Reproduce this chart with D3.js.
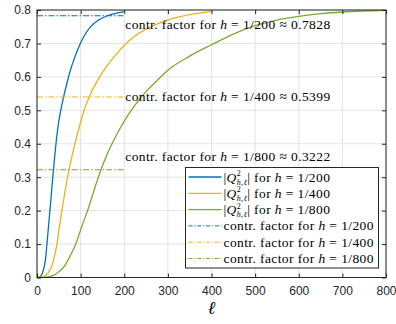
<!DOCTYPE html>
<html>
<head>
<meta charset="utf-8">
<script src="https://cdn.jsdelivr.net/npm/d3@7"></script>
<style>
  body { margin: 0; background: #fff; }
  svg { display: block; }
</style>
</head>
<body>
<svg id="chart" width="396" height="324"></svg>
<script>
// values
const ell200 = [0, 5, 8, 12, 16.7, 20, 22.8, 26.2, 29.6, 32.9, 36.2, 39.7, 43.5, 48, 54, 61, 68, 76, 85, 95, 107, 122, 140, 160, 180, 200];
const q200 = [0, 0.0005, 0.003, 0.012, 0.033, 0.06, 0.1, 0.15, 0.2, 0.25, 0.3, 0.35, 0.4, 0.45, 0.497, 0.54, 0.578, 0.617, 0.653, 0.687, 0.72, 0.749, 0.769, 0.782, 0.79, 0.795];

const ell400 = [0, 10, 16.7, 25, 33.5, 40, 45.7, 51.2, 57, 63.3, 70, 78, 86.9, 97, 108, 120, 132, 145, 160, 180, 200, 225, 250, 275, 300, 350, 400];
const q400 = [0, 0.0005, 0.003, 0.013, 0.033, 0.063, 0.1, 0.15, 0.2, 0.25, 0.3, 0.35, 0.4, 0.45, 0.5, 0.54, 0.573, 0.603, 0.632, 0.665, 0.694, 0.723, 0.743, 0.758, 0.77, 0.786, 0.796];

const ell800 = [0, 20, 40, 50, 62.5, 75, 89, 102, 116, 131, 147, 160, 175, 190, 205, 225, 250, 275, 300, 350, 400, 450, 500, 550, 600, 650, 700, 750, 800];
const q800 = [0, 0.001, 0.008, 0.017, 0.033, 0.062, 0.1, 0.15, 0.2, 0.262, 0.324, 0.366, 0.408, 0.445, 0.478, 0.516, 0.556, 0.589, 0.62, 0.662, 0.696, 0.728, 0.753, 0.77, 0.781, 0.789, 0.794, 0.797, 0.799];

const hLabels = ["1/200", "1/400", "1/800"];
const contrFactors = [0.7828, 0.5399, 0.3222];
const contrStrings = ["0.7828", "0.5399", "0.3222"];
const contrEnd = 200;

const xTicks = [0, 100, 200, 300, 400, 500, 600, 700, 800];
const yTicks = [0, 0.1, 0.2, 0.3, 0.4, 0.5, 0.6, 0.7, 0.8];
const yTickLabels = ["0", "0.1", "0.2", "0.3", "0.4", "0.5", "0.6", "0.7", "0.8"];

const colors = ["#0072BD", "#EDB120", "#77AC30"];
const serif = "'Times New Roman', 'Liberation Serif', serif";
const sans = "'Liberation Sans', Arial, sans-serif";
const axisColor = "#262626";

const svg = d3.select("#chart");
const x = d3.scaleLinear().domain([0, 800]).range([37, 386]);
const y = d3.scaleLinear().domain([0, 0.8]).range([277.5, 10]);

// grid
const grid = svg.append("g");
grid.selectAll(".gx").data(xTicks).enter().append("line")
  .attr("x1", d => x(d)).attr("x2", d => x(d))
  .attr("y1", y(0)).attr("y2", y(0.8))
  .attr("stroke", "#e3e3e3").attr("stroke-width", 1);
grid.selectAll(".gy").data(yTicks).enter().append("line")
  .attr("x1", x(0)).attr("x2", x(800))
  .attr("y1", d => y(d)).attr("y2", d => y(d))
  .attr("stroke", "#e3e3e3").attr("stroke-width", 1);

// curves
const series = [
  { l: ell200, q: q200 },
  { l: ell400, q: q400 },
  { l: ell800, q: q800 },
];
const line = d3.line()
  .x(d => x(d[0]))
  .y(d => y(d[1]))
  .curve(d3.curveMonotoneX);

series.forEach((s, i) => {
  svg.append("path")
    .datum(s.l.map((v, k) => [v, s.q[k]]))
    .attr("fill", "none")
    .attr("stroke", colors[i])
    .attr("stroke-width", 1.3)
    .attr("d", line);
});

// contraction factor lines
const dashes = "6,2,1.5,2";
contrFactors.forEach((c, i) => {
  svg.append("line")
    .attr("x1", x(0)).attr("x2", x(contrEnd))
    .attr("y1", y(c)).attr("y2", y(c))
    .attr("stroke", colors[i])
    .attr("stroke-width", 1.1)
    .attr("stroke-dasharray", dashes);
});

// annotations next to the dash-dot lines
const labelShift = [13, 4, -9];
contrFactors.forEach((c, i) => {
  const t = svg.append("text")
    .attr("x", x(contrEnd) + 1)
    .attr("y", y(c) + labelShift[i])
    .attr("font-family", serif)
    .attr("font-size", 13.5)
    .attr("letter-spacing", 0.4)
    .attr("fill", "#000");
  t.append("tspan").text("contr. factor for ");
  t.append("tspan").attr("font-style", "italic").text("h");
  t.append("tspan").text(" = " + hLabels[i] + " \u2248 " + contrStrings[i]);
});

// axes
const xAxis = d3.axisBottom(x).tickValues(xTicks).tickSize(-4).tickSizeOuter(0).tickPadding(9);
const xTop = d3.axisTop(x).tickValues(xTicks).tickSize(-4).tickSizeOuter(0).tickFormat("");
const yAxis = d3.axisLeft(y).tickValues(yTicks).tickSize(-4).tickSizeOuter(0).tickPadding(6)
  .tickFormat((d, i) => yTickLabels[i]);
const yRight = d3.axisRight(y).tickValues(yTicks).tickSize(-4).tickSizeOuter(0).tickFormat("");

function styleAxis(g) {
  g.select(".domain").remove();
  g.selectAll("line").attr("stroke", axisColor).attr("stroke-width", 1);
  g.selectAll("text").attr("fill", axisColor).attr("font-size", 12).attr("font-family", sans);
}
svg.append("g").attr("transform", `translate(0,${y(0)})`).call(xAxis).call(styleAxis);
svg.append("g").attr("transform", `translate(0,${y(0.8)})`).call(xTop).call(styleAxis);
svg.append("g").attr("transform", `translate(${x(0)},0)`).call(yAxis).call(styleAxis);
svg.append("g").attr("transform", `translate(${x(800)},0)`).call(yRight).call(styleAxis);

svg.append("rect")
  .attr("x", x(0)).attr("y", y(0.8))
  .attr("width", x(800) - x(0)).attr("height", y(0) - y(0.8))
  .attr("fill", "none").attr("stroke", axisColor).attr("stroke-width", 1);

// x label
svg.append("text")
  .attr("x", x(400)).attr("y", 314)
  .attr("text-anchor", "middle")
  .attr("font-family", serif)
  .attr("font-style", "italic")
  .attr("font-size", 18)
  .text("\u2113");

// legend
const legend = svg.append("g").attr("transform", "translate(185.5,167.5)");
legend.append("rect")
  .attr("width", 193).attr("height", 100.5)
  .attr("fill", "#fff").attr("stroke", axisColor).attr("stroke-width", 1);

const rowY = d3.scaleLinear().domain([0, 5]).range([9.5, 91]);
const entries = [];
hLabels.forEach((h, i) => entries.push({ kind: "q", h, color: colors[i] }));
hLabels.forEach((h, i) => entries.push({ kind: "c", h, color: colors[i] }));

entries.forEach((e, i) => {
  const yy = rowY(i);
  legend.append("line")
    .attr("x1", 3).attr("x2", 36)
    .attr("y1", yy).attr("y2", yy)
    .attr("stroke", e.color)
    .attr("stroke-width", e.kind === "q" ? 1.3 : 1)
    .attr("stroke-dasharray", e.kind === "q" ? null : "4,1.8,1.2,1.8");
  const t = legend.append("text")
    .attr("x", 38).attr("y", yy + 4.5)
    .attr("font-family", serif)
    .attr("font-size", 13.5)
    .attr("letter-spacing", 0.4);
  if (e.kind === "q") {
    t.append("tspan").text("|");
    t.append("tspan").attr("font-style", "italic").text("Q");
    t.append("tspan").attr("font-size", 8).attr("dy", -5.5).text("2");
    t.append("tspan").attr("font-size", 8).attr("font-style", "italic").attr("dx", -4.5).attr("dy", 8.5).text("h,\u2113");
    t.append("tspan").attr("dy", -3).text("| for ");
  } else {
    t.append("tspan").text("contr. factor for ");
  }
  t.append("tspan").attr("font-style", "italic").text("h");
  t.append("tspan").text(" = " + e.h);
});
</script>
</body>
</html>
